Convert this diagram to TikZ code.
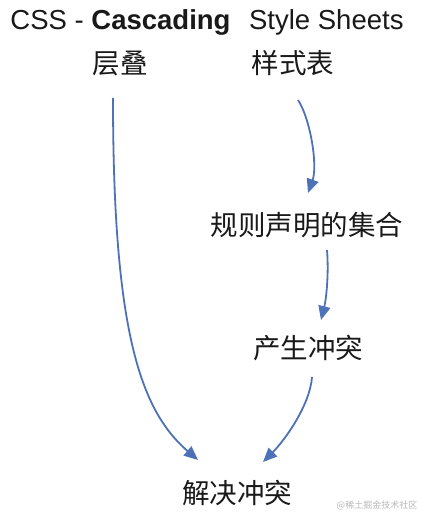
\documentclass[tikz,border=0pt]{standalone}
\usepackage{fontspec}
\setmainfont{Liberation Sans}
\newfontfamily\cjk{Noto Sans CJK SC}
\usetikzlibrary{arrows.meta,calc}
\definecolor{arrowblue}{RGB}{78,114,184}
\definecolor{txt}{RGB}{25,25,25}
\begin{document}
\begin{tikzpicture}[x=1pt,y=-1pt,
  lbl/.style={font=\fontsize{27.5}{30}\selectfont, inner sep=0pt, text=txt},
  cn/.style={font=\cjk\fontsize{27.5}{30}\selectfont, inner sep=0pt, text=txt},
  arr/.style={draw=arrowblue, line width=1.8pt, -{Triangle[length=14pt,width=12pt]}}]
\useasboundingbox[fill=white] (0,0) rectangle (420,513);

\node[lbl] (title) at (207,22) {CSS - \textbf{Cascading}\hspace{0.4em} Style Sheets};
\node[cn] (cd) at (120,63) {层叠};
\node[cn] (ys) at (293,63) {样式表};
\node[cn] (gz) at (307,225) {规则声明的集合};
\node[cn] (cs) at (308,348) {产生冲突};
\node[cn] (jj) at (237,493) {解决冲突};
\node[font=\cjk\fontsize{9}{10}\selectfont, text=gray!55, inner sep=0pt] (wm) at (377,505) {@稀土掘金技术社区};

\draw[arr] ($(cd.center)+(-7,35)$) .. controls (113,330) and (140,410) .. ($(jj.center)+(-39,-33)$);
\draw[arr] ($(ys.center)+(5,37)$) .. controls (310,118) and (318,165) .. ($(gz.center)+(1,-32)$);
\draw[arr] ($(gz.center)+(20,25)$) .. controls (329,275) and (326,300) .. ($(cs.center)+(13,-28)$);
\draw[arr] ($(cs.center)+(4,29)$) .. controls (310,405) and (285,440) .. ($(jj.center)+(26,-31)$);
\end{tikzpicture}
\end{document}
